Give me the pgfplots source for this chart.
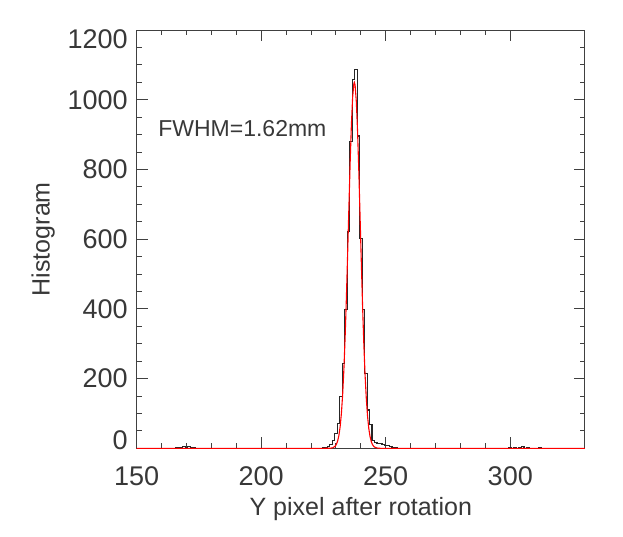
\documentclass[border=0pt]{standalone}
\usepackage{pgfplots}
\pgfplotsset{compat=1.18}
\usepackage{fontspec}
\setmainfont{Liberation Sans}
\definecolor{axgray}{HTML}{404040}
\definecolor{txtgray}{HTML}{383838}

% histogram of Y pixel after rotation (bin centres)
\pgfplotstableread{
x y
150 0
165 0
166 1
167 2
168 3
169 4
170 2
171 5
172 3
173 1
174 0
224 0
225 1
226 3
227 6
228 12
229 22
230 42
231 72
232 148
233 244
234 399
235 621
236 880
237 1057
238 1088
239 896
240 602
241 399
242 215
243 110
244 67
245 22
246 17
247 14
248 14
249 10
250 7
251 7
252 4
253 2
254 1
255 0
299 0
300 2
301 0
302 3
303 0
304 2
305 4
306 0
307 2
308 0
311 0
312 3
313 0
330 0
}\histdata

% fitted gaussian
\pgfplotstableread{
x y
150 0
225.7 0
227.7 0.3
228.7 1.5
229.7 6.1
230.2 11.7
230.7 21.3
231.2 37.3
231.7 62.6
232.2 100.5
232.7 154.3
233.2 227.1
233.7 320.0
234.2 431.7
234.7 557.7
235.2 689.9
235.7 817.0
236.2 926.6
236.7 1006.3
237.2 1046.4
237.4 1050
237.7 1041.8
238.2 993.3
238.7 906.8
239.2 792.5
239.7 663.4
240.2 531.6
240.7 408.0
241.2 299.8
241.7 210.9
242.2 142.1
242.7 91.7
243.2 56.6
243.7 33.5
244.2 19.0
244.7 10.3
245.2 5.4
245.7 2.7
246.7 0.6
247.7 0
330 0
}\fitdata

\begin{document}
\begin{tikzpicture}
\begin{axis}[
    scale only axis,
    width=224pt, height=209pt,
    xmin=150, xmax=330,
    ymin=0, ymax=1200,
    xtick={150,200,250,300},
    ytick={0,200,...,1200},
    minor x tick num=4,
    minor y tick num=3,
    tick align=inside,
    major tick length=5.5pt,
    minor tick length=2.5pt,
    axis line style={axgray, line width=0.5pt},
    every tick/.style={axgray, line width=0.5pt},
    tick label style={font=\fontsize{13.5}{15}\selectfont, text=txtgray},
    /pgf/number format/assume math mode=true,
    /pgf/number format/1000 sep={},
    xticklabel style={yshift=-5.5pt},
    yticklabel style={xshift=-1pt},
    yticklabel={\ifdim\tick pt<1pt\smash{\raisebox{4pt}{\pgfmathprintnumber{\tick}}}\vphantom{0}\else\ifdim\tick pt>1199pt\smash{\raisebox{-4.5pt}{\pgfmathprintnumber{\tick}}}\vphantom{0}\else\pgfmathprintnumber{\tick}\fi\fi},
    xlabel={Y pixel after rotation},
    ylabel={Histogram},
    label style={font=\fontsize{12.5}{14}\selectfont, text=txtgray},
    xlabel style={yshift=1pt},
    ylabel style={yshift=-0.5pt},
    clip=false,
]
\addplot[const plot mark mid, black!85, line width=0.55pt] table[x=x, y=y] {\histdata};
\addplot[red, line width=0.55pt] table[x=x, y=y] {\fitdata};
\node[anchor=west, inner sep=0pt, font=\fontsize{11.5}{13}\selectfont, text=txtgray] at (axis cs:158.5,916) {FWHM=1.62mm};
\end{axis}
\pgfresetboundingbox
\path ([shift={(-68.3pt,-44pt)}]current axis.south west) rectangle ([shift={(19pt,15pt)}]current axis.north east);
\end{tikzpicture}
\end{document}
